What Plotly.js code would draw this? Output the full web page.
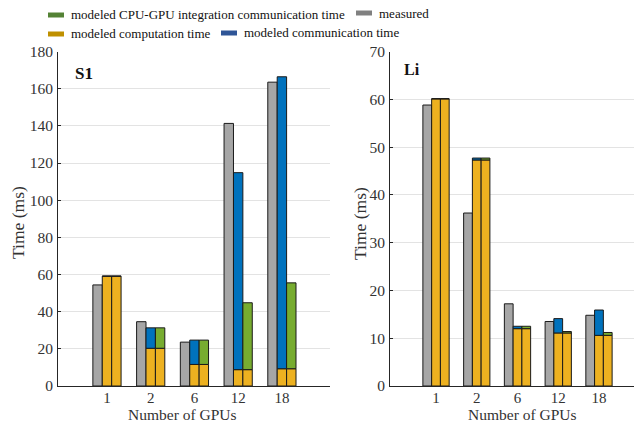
<!DOCTYPE html>
<html><head><meta charset="utf-8">
<script src="https://cdn.plot.ly/plotly-3.0.1.min.js"></script>
<style>html,body{margin:0;padding:0;background:#fff}#c{width:638px;height:425px}</style>
</head><body><div id="c"></div>
<script>
// ---- data ----
const gpus = ['1','2','6','12','18'];
// S1 panel
const s1Measured   = [54.4, 34.6, 23.6, 141.3, 163.5];
const s1Compute    = [59.1, 20.3, 11.6, 8.8, 9.3];
const s1Comm       = [0.0, 11.0, 13.1, 106.0, 157.1];
const s1Integ      = [0.0, 11.0, 13.1, 36.0, 46.2];
// Li panel
const liMeasured   = [58.8, 36.2, 17.2, 13.5, 14.8];
const liCompute    = [60.1, 47.3, 12.0, 11.1, 10.6];
const liComm       = [0.0, 0.4, 0.5, 3.0, 5.3];
const liInteg      = [0.0, 0.4, 0.5, 0.3, 0.6];
const legendLabels = ['modeled CPU-GPU integration communication time', 'measured',
                      'modeled computation time', 'modeled communication time'];
const xTitle = 'Number of GPUs', yTitle = 'Time (ms)';
const panelLabels = ['S1', 'Li'];

// ---- styling ----
const FONT = 'Liberation Serif';
const C = {gray:'#a6a6a6', yellow:'#edb120', blue:'#0072bd', green:'#77ac30'};
const LC = {gray:'#808080', yellow:'#bf9000', blue:'#2f5597', green:'#548235'};
const W = 0.215, OFF = [-0.3225, -0.1075, 0.1075];
const line = {color:'#1a1a1a', width:1};

function bars(xa, ya, meas, comp, comm, integ) {
  const t = [];
  t.push({type:'bar', x:gpus, y:meas, width:W, offset:OFF[0], xaxis:xa, yaxis:ya,
          marker:{color:C.gray, line:line}, showlegend:false});
  t.push({type:'bar', x:gpus, y:comp, width:W, offset:OFF[1], xaxis:xa, yaxis:ya,
          marker:{color:C.yellow, line:line}, showlegend:false});
  t.push({type:'bar', x:gpus, y:comm, base:comp, width:W, offset:OFF[1], xaxis:xa, yaxis:ya,
          marker:{color:C.blue, line:line}, showlegend:false});
  t.push({type:'bar', x:gpus, y:comp, width:W, offset:OFF[2], xaxis:xa, yaxis:ya,
          marker:{color:C.yellow, line:line}, showlegend:false});
  t.push({type:'bar', x:gpus, y:integ, base:comp, width:W, offset:OFF[2], xaxis:xa, yaxis:ya,
          marker:{color:C.green, line:line}, showlegend:false});
  return t;
}
const data = [].concat(
  bars('x','y', s1Measured, s1Compute, s1Comm, s1Integ),
  bars('x2','y2', liMeasured, liCompute, liComm, liInteg)
);

const PW = 638, PH = 425;
const px = v => v / PW, py = v => (PH - v) / PH;
const yDom = [py(386), py(51.5)];

function xax(dom, range, anchor) {
  return {domain:dom, range:range, anchor:anchor, type:'category', showline:true, linecolor:'#262626', linewidth:1,
    ticks:'', showgrid:false, zeroline:false, tickfont:{family:FONT, size:15, color:'#333'},
    ticklabelstandoff:-2};
}
function yax(range, dtick, anchor) {
  return {domain:yDom, range:range, dtick:dtick, anchor:anchor, showline:true, linecolor:'#262626', linewidth:1,
    ticks:'inside', ticklen:3, tickcolor:'#262626', showgrid:true, gridcolor:'#e3e3e3', gridwidth:1,
    zeroline:false, tickfont:{family:FONT, size:15.5, color:'#333'}, ticklabelstandoff:1};
}

const shapes = [], annotations = [];
function legItem(x0, y, color, text) {
  shapes.push({type:'rect', xref:'paper', yref:'paper', x0:px(x0), x1:px(x0+16),
               y0:py(y+2.5), y1:py(y-2.5), fillcolor:color, line:{width:0}});
  annotations.push({xref:'paper', yref:'paper', x:px(x0+21), y:py(y), xanchor:'left', yanchor:'middle',
                    text:text, showarrow:false, font:{family:FONT, size:13, color:'#111'}});
}
legItem(48, 15, LC.green, legendLabels[0]);
legItem(356, 13, LC.gray, legendLabels[1]);
legItem(48, 34, LC.yellow, legendLabels[2]);
legItem(221, 33, LC.blue, legendLabels[3]);
function ann(x, y, text, size, angle, bold) {
  annotations.push({xref:'paper', yref:'paper', x:px(x), y:py(y), xanchor:'center', yanchor:'middle',
    text: bold ? '<b>' + text + '</b>' : text, textangle:angle || 0, showarrow:false,
    font:{family:FONT, size:size, color: bold ? '#111' : '#333'}});
}
ann(84, 73, panelLabels[0], 17, 0, true);
ann(412, 69, panelLabels[1], 16, 0, true);
ann(182, 414.5, xTitle, 15.5);
ann(522, 414.5, xTitle, 15.5);
ann(18, 223, yTitle, 17.5, -90);
ann(360, 223, yTitle, 17.5, -90);

const layout = {
  width:PW, height:PH, margin:{l:0, r:0, t:0, b:0}, paper_bgcolor:'#fff', plot_bgcolor:'#fff',
  font:{family:FONT, size:15, color:'#333'},
  barmode:'overlay', showlegend:false,
  xaxis: xax([px(58), px(330)], [-1.12, 5.1], 'y'),
  yaxis: yax([0, 180], 20, 'x'),
  xaxis2: xax([px(390), px(634)], [-1.13, 4.86], 'y2'),
  yaxis2: yax([0, 70], 10, 'x2'),
  shapes:shapes, annotations:annotations
};
Plotly.newPlot('c', data, layout, {staticPlot:true});
</script></body></html>
